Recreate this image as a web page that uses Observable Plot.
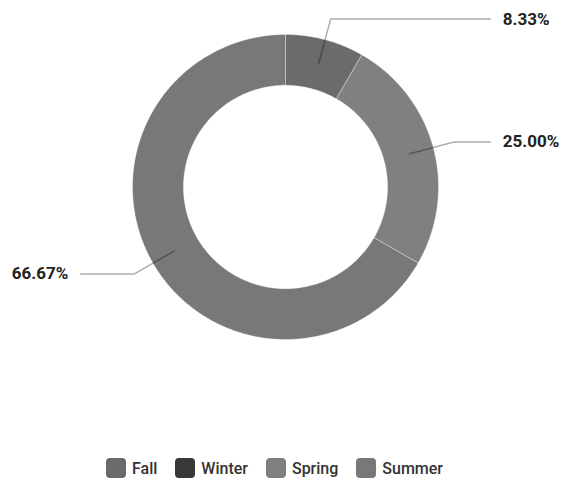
<!DOCTYPE html>
<html>
<head>
<meta charset="utf-8">
<script src="https://cdn.jsdelivr.net/npm/d3@7"></script>
<script src="https://cdn.jsdelivr.net/npm/@observablehq/plot@0.6"></script>
<style>
  html, body { margin: 0; padding: 0; background: #fff; }
  #chart svg { display: block; }
  #legend { display: flex; justify-content: center; align-items: center; height: 36px; font-family: Roboto, sans-serif; font-size: 16px; font-weight: 500; color: #333; padding-right: 13px; }
  #legend .item { display: flex; align-items: center; margin: 0 9px; }
  #legend .sw { width: 20px; height: 20px; border-radius: 4px; margin-right: 6px; }
</style>
</head>
<body>
<div id="chart"></div>
<div id="legend"></div>
<script>
const seasons = ["Fall", "Winter", "Spring", "Summer"];
const counts = [1, 0, 3, 8];
const colors = ["#6b6b6b", "#383838", "#808080", "#787878"];

const INNER = 0.667, OUTER = 1;
const total = d3.sum(counts);
const arcs = d3.pie().sort(null).startAngle(0).endAngle(2 * Math.PI)(counts);

// ring polygons
const pts = [];
arcs.forEach((a, i) => {
  if (a.value === 0) return;
  const n = Math.max(8, Math.ceil((a.endAngle - a.startAngle) / 0.01));
  for (let k = 0; k <= n; k++) {
    const t = a.startAngle + (a.endAngle - a.startAngle) * k / n;
    pts.push({season: seasons[i], x: OUTER * Math.sin(t), y: OUTER * Math.cos(t)});
  }
  for (let k = n; k >= 0; k--) {
    const t = a.startAngle + (a.endAngle - a.startAngle) * k / n;
    pts.push({season: seasons[i], x: INNER * Math.sin(t), y: INNER * Math.cos(t)});
  }
});

// leader lines and labels
const leaders = [], labels = [];
arcs.forEach((a, i) => {
  if (a.value === 0) return;
  const m = (a.startAngle + a.endAngle) / 2;
  const s = Math.sin(m) >= 0 ? 1 : -1;
  const ey = 1.14 * Math.cos(m);
  leaders.push({k: seasons[i], x: 0.84 * Math.sin(m), y: 0.84 * Math.cos(m)});
  leaders.push({k: seasons[i], x: 1.14 * Math.sin(m), y: ey});
  leaders.push({k: seasons[i], x: s * 1.34, y: ey});
  labels.push({x: s * 1.42, y: ey, anchor: s > 0 ? "start" : "end",
               text: (a.value / total * 100).toFixed(2) + "%"});
});

const W = 562, H = 450;
const chart = Plot.plot({
  width: W, height: H,
  marginLeft: 132, marginRight: 124, marginTop: 34, marginBottom: 111,
  x: {domain: [-1, 1], axis: null},
  y: {domain: [-1, 1], axis: null},
  color: {domain: seasons, range: colors},
  style: {fontFamily: "Roboto, sans-serif", background: "#fff", overflow: "visible"},
  marks: [
    Plot.line(pts, {x: "x", y: "y", z: "season", fill: "season", stroke: "#fff", strokeOpacity: 0.35, strokeWidth: 1, curve: "linear-closed"}),
    Plot.line(leaders, {x: "x", y: "y", z: "k", stroke: "#000", strokeOpacity: 0.32, strokeWidth: 1.5}),
    Plot.text(labels.filter(d => d.anchor === "start"), {x: "x", y: "y", text: "text", textAnchor: "start", fontSize: 17, fontWeight: 700, fill: "#222"}),
    Plot.text(labels.filter(d => d.anchor === "end"), {x: "x", y: "y", text: "text", textAnchor: "end", fontSize: 17, fontWeight: 700, fill: "#222"})
  ]
});
document.getElementById("chart").appendChild(chart);

const lg = document.getElementById("legend");
seasons.forEach((s, i) => {
  const it = document.createElement("div");
  it.className = "item";
  const sw = document.createElement("span");
  sw.className = "sw";
  sw.style.background = colors[i];
  const tx = document.createElement("span");
  tx.textContent = s;
  it.appendChild(sw); it.appendChild(tx);
  lg.appendChild(it);
});
</script>
</body>
</html>
